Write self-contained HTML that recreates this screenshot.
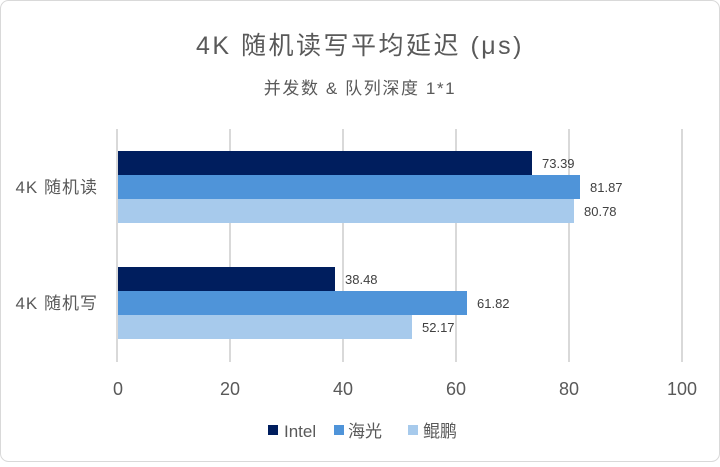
<!DOCTYPE html><html><head><meta charset="utf-8"><style>body{margin:0;background:#fff}</style></head><body>
<svg width="720" height="462" xmlns="http://www.w3.org/2000/svg" font-family="Liberation Sans, Noto Sans CJK SC, sans-serif">
<rect x="0.5" y="0.5" width="719" height="461" rx="8" fill="#fff" stroke="#d9d9d9"/>
<text x="360" y="54" text-anchor="middle" font-size="25" letter-spacing="2.5" fill="#595959">4K 随机读写平均延迟 (μs)</text>
<text x="360" y="94" text-anchor="middle" font-size="17" letter-spacing="1.6" fill="#595959">并发数 &amp; 队列深度 1*1</text>
<g stroke="#d9d9d9" stroke-width="2">
<line x1="117" y1="129" x2="117" y2="362"/><line x1="230" y1="129" x2="230" y2="362"/><line x1="343" y1="129" x2="343" y2="362"/><line x1="456" y1="129" x2="456" y2="362"/><line x1="569" y1="129" x2="569" y2="362"/><line x1="682" y1="129" x2="682" y2="362"/>
</g>
<rect x="118" y="151" width="414" height="24" fill="#001e5e"/>
<rect x="118" y="175" width="462" height="24" fill="#4f94d9"/>
<rect x="118" y="199" width="456" height="24" fill="#a7caec"/>
<rect x="118" y="267" width="217" height="24" fill="#001e5e"/>
<rect x="118" y="291" width="349" height="24" fill="#4f94d9"/>
<rect x="118" y="315" width="294" height="24" fill="#a7caec"/>
<g font-size="13" fill="#404040">
<text x="542" y="168">73.39</text><text x="590" y="192">81.87</text><text x="584" y="216">80.78</text>
<text x="345" y="284">38.48</text><text x="477" y="308">61.82</text><text x="422" y="332">52.17</text>
</g>
<g font-size="17" fill="#595959" text-anchor="end" letter-spacing="1">
<text x="98" y="193">4K 随机读</text><text x="98" y="309">4K 随机写</text>
</g>
<g font-size="18" fill="#595959" text-anchor="middle">
<text x="118" y="395">0</text><text x="230" y="395">20</text><text x="343" y="395">40</text><text x="456" y="395">60</text><text x="569" y="395">80</text><text x="682" y="395">100</text>
</g>
<rect x="268" y="425" width="10" height="10" fill="#001e5e"/>
<text x="284" y="437" font-size="17" fill="#595959">Intel</text>
<rect x="334" y="425" width="10" height="10" fill="#4f94d9"/>
<text x="348" y="437" font-size="17" fill="#595959">海光</text>
<rect x="408" y="425" width="10" height="10" fill="#a7caec"/>
<text x="423" y="437" font-size="17" fill="#595959">鲲鹏</text>
</svg>
</body></html>
